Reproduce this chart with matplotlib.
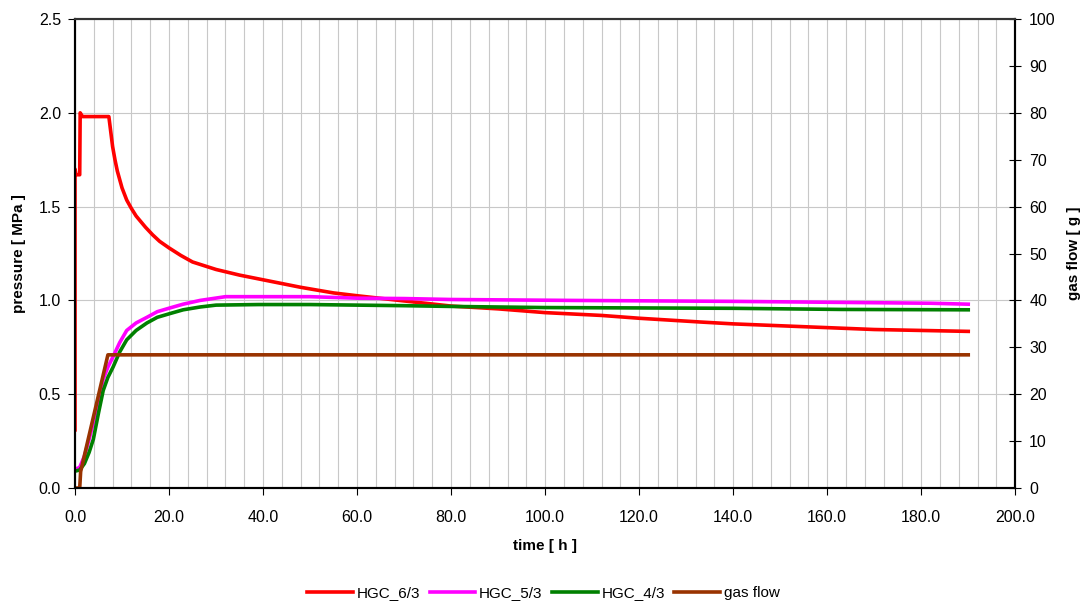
import numpy as np
import matplotlib.pyplot as plt
from matplotlib.ticker import MultipleLocator, FormatStrFormatter

plt.rcParams['font.family'] = ['Liberation Sans', 'DejaVu Sans']

# HGC_6/3 pressure [MPa]
t_63 = [0, 0, 0.2, 1.0, 1.1, 1.6, 7.2, 7.6, 8.0, 8.5, 9.0, 10, 11, 12, 13, 14, 15,
        16.5, 18, 20, 22.5, 25, 27.5, 30, 35, 40, 48, 55, 60, 69, 80, 90, 100, 112,
        120, 133, 140, 150, 160, 170, 180, 190]
p_63 = [0.31, 1.70, 1.67, 1.67, 2.00, 1.98, 1.98, 1.90, 1.82, 1.75, 1.69, 1.60, 1.535,
        1.49, 1.45, 1.42, 1.39, 1.35, 1.315, 1.28, 1.24, 1.205, 1.185, 1.165, 1.135,
        1.11, 1.07, 1.04, 1.025, 1.00, 0.97, 0.955, 0.935, 0.92, 0.905, 0.885, 0.875,
        0.865, 0.855, 0.845, 0.84, 0.835]

# HGC_5/3 pressure [MPa]
t_53 = [0, 1.0, 2.0, 3.0, 3.9, 5.0, 6.0, 7.0, 8.1, 9.5, 11, 13, 15.3, 17.5, 20.2,
        23, 26.6, 32, 40, 50, 60, 70, 80, 106, 140, 182, 190]
p_53 = [0.10, 0.11, 0.17, 0.26, 0.35, 0.47, 0.58, 0.645, 0.70, 0.775, 0.84, 0.88,
        0.91, 0.94, 0.96, 0.98, 1.00, 1.02, 1.02, 1.02, 1.012, 1.01, 1.005, 1.0,
        0.995, 0.985, 0.98]

# HGC_4/3 pressure [MPa]
t_43 = [0, 1.0, 2.0, 3.0, 3.9, 5.0, 6.0, 7.0, 8.1, 9.5, 11, 13, 15.3, 17.5, 20.2,
        23, 26.6, 30, 39, 50, 60, 70, 80, 100, 120, 140, 163, 190]
p_43 = [0.09, 0.096, 0.13, 0.19, 0.26, 0.40, 0.52, 0.59, 0.645, 0.725, 0.79, 0.84,
        0.88, 0.91, 0.93, 0.95, 0.965, 0.975, 0.978, 0.978, 0.975, 0.972, 0.968,
        0.962, 0.96, 0.958, 0.952, 0.95]

# gas flow [g]
t_gas = [0, 1.0, 1.2, 7.0, 190]
g_gas = [0, 0, 3.5, 28.4, 28.4]

fig = plt.figure(figsize=(10.87, 6.04), dpi=100)
ax = fig.add_axes([0.069, 0.192, 0.865, 0.7765])
ax2 = ax.twinx()

lw = 2.6
l1, = ax.plot(t_63, p_63, color='#ff0000', lw=lw, label='HGC_6/3')
l2, = ax.plot(t_53, p_53, color='#ff00ff', lw=lw, label='HGC_5/3')
l3, = ax.plot(t_43, p_43, color='#008000', lw=lw, label='HGC_4/3')
l4, = ax2.plot(t_gas, g_gas, color='#993300', lw=lw, label='gas flow')

ax.set_xlim(0, 200)
ax.set_ylim(0, 2.5)
ax2.set_ylim(0, 100)

ax.xaxis.set_major_locator(MultipleLocator(20))
ax.xaxis.set_minor_locator(MultipleLocator(4))
ax.xaxis.set_major_formatter(FormatStrFormatter('%.1f'))
ax.yaxis.set_major_locator(MultipleLocator(0.5))
ax.yaxis.set_major_formatter(FormatStrFormatter('%.1f'))
ax2.yaxis.set_major_locator(MultipleLocator(10))

ax.grid(True, which='both', axis='x', color='#c8c8c8', lw=0.8)
ax.grid(True, which='major', axis='y', color='#c8c8c8', lw=0.8)
ax.set_axisbelow(True)
ax.tick_params(axis='x', which='minor', length=0)
ax.tick_params(axis='x', which='major', labelsize=11.5, length=5, pad=11)
ax.tick_params(axis='y', which='major', labelsize=11.5, length=5, pad=5)
ax2.tick_params(axis='y', labelsize=11.5, length=8, direction='inout', pad=6)

for a in (ax, ax2):
    for s in a.spines.values():
        s.set_linewidth(1.5)
        s.set_color('black')
    a.spines['top'].set_color('#333333')

ax.set_xlabel('time [ h ]', fontsize=11, fontweight='bold', labelpad=10)
ax.set_ylabel('pressure [ MPa ]', fontsize=11, fontweight='bold', labelpad=9)
ax2.set_ylabel('gas flow [ g ]', fontsize=11, fontweight='bold', labelpad=8)

fig.legend(handles=[l1, l2, l3, l4], loc='center', bbox_to_anchor=(0.5, 0.018),
           ncol=4, frameon=False, fontsize=11, handlelength=3.0,
           handletextpad=0.25, columnspacing=0.6)

fig.savefig('out.png', dpi=100)
